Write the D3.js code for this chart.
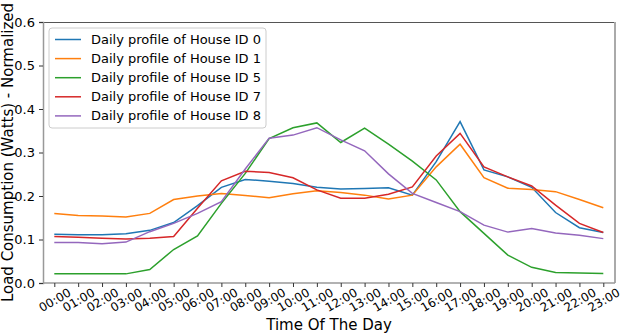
<!DOCTYPE html>
<html>
<head>
<meta charset="utf-8">
<script src="https://d3js.org/d3.v7.min.js"></script>
<style>
  body { margin: 0; background: #fff; }
  svg { display: block; font-family: "DejaVu Sans", sans-serif; }
</style>
</head>
<body>
<svg width="623" height="334"></svg>
<script>
// hours of the day, one label per point
var hours = d3.range(24).map(function(h){ return (h < 10 ? "0" : "") + h + ":00"; });
var yTicks = [0.0, 0.1, 0.2, 0.3, 0.4, 0.5, 0.6];

var house0 = [0.112,0.111,0.111,0.113,0.121,0.139,0.178,0.220,0.238,0.234,0.229,0.220,
              0.216,0.217,0.219,0.202,0.279,0.371,0.260,0.244,0.220,0.162,0.127,0.116];
var house1 = [0.160,0.155,0.154,0.152,0.160,0.192,0.200,0.206,0.201,0.196,0.205,0.212,
              0.208,0.202,0.193,0.202,0.267,0.319,0.242,0.218,0.215,0.210,0.192,0.173];
var house5 = [0.021,0.021,0.021,0.021,0.031,0.077,0.108,0.183,0.252,0.332,0.357,0.368,
              0.323,0.356,0.319,0.280,0.237,0.164,0.114,0.064,0.036,0.024,0.023,0.022];
var house7 = [0.107,0.105,0.103,0.101,0.103,0.107,0.172,0.235,0.257,0.254,0.242,0.214,
              0.195,0.195,0.204,0.221,0.292,0.344,0.267,0.244,0.223,0.179,0.137,0.116];
var house8 = [0.093,0.093,0.090,0.094,0.118,0.137,0.160,0.187,0.262,0.333,0.340,0.357,
              0.329,0.304,0.251,0.206,0.185,0.164,0.133,0.117,0.125,0.115,0.110,0.102];

var seriesNames = ["Daily profile of House ID 0","Daily profile of House ID 1",
                   "Daily profile of House ID 5","Daily profile of House ID 7",
                   "Daily profile of House ID 8"];
var seriesValues = [house0, house1, house5, house7, house8];
var colors = ["#1f77b4","#ff7f0e","#2ca02c","#d62728","#9467bd"];

var svg = d3.select("svg");
var pLeft = 43, pRight = 615, pTop = 22, pBottom = 283;

var x = d3.scaleLinear().domain([0, 23]).range([54.3, 603.3]);
var y = d3.scaleLinear().domain([0, 0.6]).range([pBottom, pTop]);

// frame
svg.append("line").attr("x1", pLeft).attr("x2", pRight).attr("y1", pTop + 0.5).attr("y2", pTop + 0.5)
   .attr("stroke", "#555").attr("stroke-width", 1);
svg.append("line").attr("x1", pRight).attr("x2", pRight).attr("y1", pTop).attr("y2", pBottom)
   .attr("stroke", "#aaa").attr("stroke-width", 2);

// y axis
var gy = svg.append("g").attr("transform", "translate(" + pLeft + ",0)")
  .call(d3.axisLeft(y).tickValues(yTicks).tickFormat(d3.format(".1f")).tickSizeOuter(0).tickSize(4).tickPadding(4));
gy.select(".domain").attr("stroke", "#999").attr("stroke-width", 1.5);
gy.selectAll(".tick line").attr("stroke", "#333");
gy.selectAll(".tick text").attr("font-size", 13).attr("fill", "#000")
  .attr("font-family", "DejaVu Sans");

// x axis
var gx = svg.append("g").attr("transform", "translate(0," + pBottom + ")")
  .call(d3.axisBottom(x).tickValues(d3.range(24)).tickFormat(function(i){ return hours[i]; })
          .tickSizeOuter(0).tickSize(4));
gx.select(".domain").attr("d", "M" + pLeft + ",0H" + pRight).attr("stroke", "#999").attr("stroke-width", 1.5);
gx.selectAll(".tick line").attr("stroke", "#333");
gx.selectAll(".tick text")
  .attr("font-size", 12).attr("fill", "#000").attr("font-family", "DejaVu Sans")
  .attr("text-anchor", "middle").attr("dy", "0.35em")
  .attr("y", 0)
  .attr("transform", "translate(0,17) rotate(-30)");

// lines
var line = d3.line().x(function(d, i){ return x(i); }).y(function(d){ return y(d); });
svg.append("g").selectAll("path").data(seriesValues).join("path")
  .attr("d", line).attr("fill", "none")
  .attr("stroke", function(d, i){ return colors[i]; })
  .attr("stroke-width", 1.5);

// axis titles
svg.append("text").attr("x", (pLeft + pRight) / 2).attr("y", 330)
  .attr("text-anchor", "middle").attr("font-size", 15).text("Time Of The Day");
svg.append("text").attr("transform", "translate(13," + ((pTop + pBottom) / 2) + ") rotate(-90)")
  .attr("text-anchor", "middle").attr("font-size", 15)
  .text("Load Consumption (Watts) - Normalized");

// legend
var lg = svg.append("g").attr("transform", "translate(49,28)");
lg.append("rect").attr("width", 217).attr("height", 100).attr("rx", 3)
  .attr("fill", "#fff").attr("fill-opacity", 0.8).attr("stroke", "#ccc");
var rows = lg.selectAll("g.item").data(seriesNames).join("g").attr("class", "item")
  .attr("transform", function(d, i){ return "translate(0," + (11.5 + i * 19.1) + ")"; });
rows.append("line").attr("x1", 6).attr("x2", 32)
  .attr("stroke", function(d, i){ return colors[i]; }).attr("stroke-width", 1.5);
rows.append("text").attr("x", 42).attr("dy", "0.35em").attr("font-size", 13).text(function(d){ return d; });
</script>
</body>
</html>
